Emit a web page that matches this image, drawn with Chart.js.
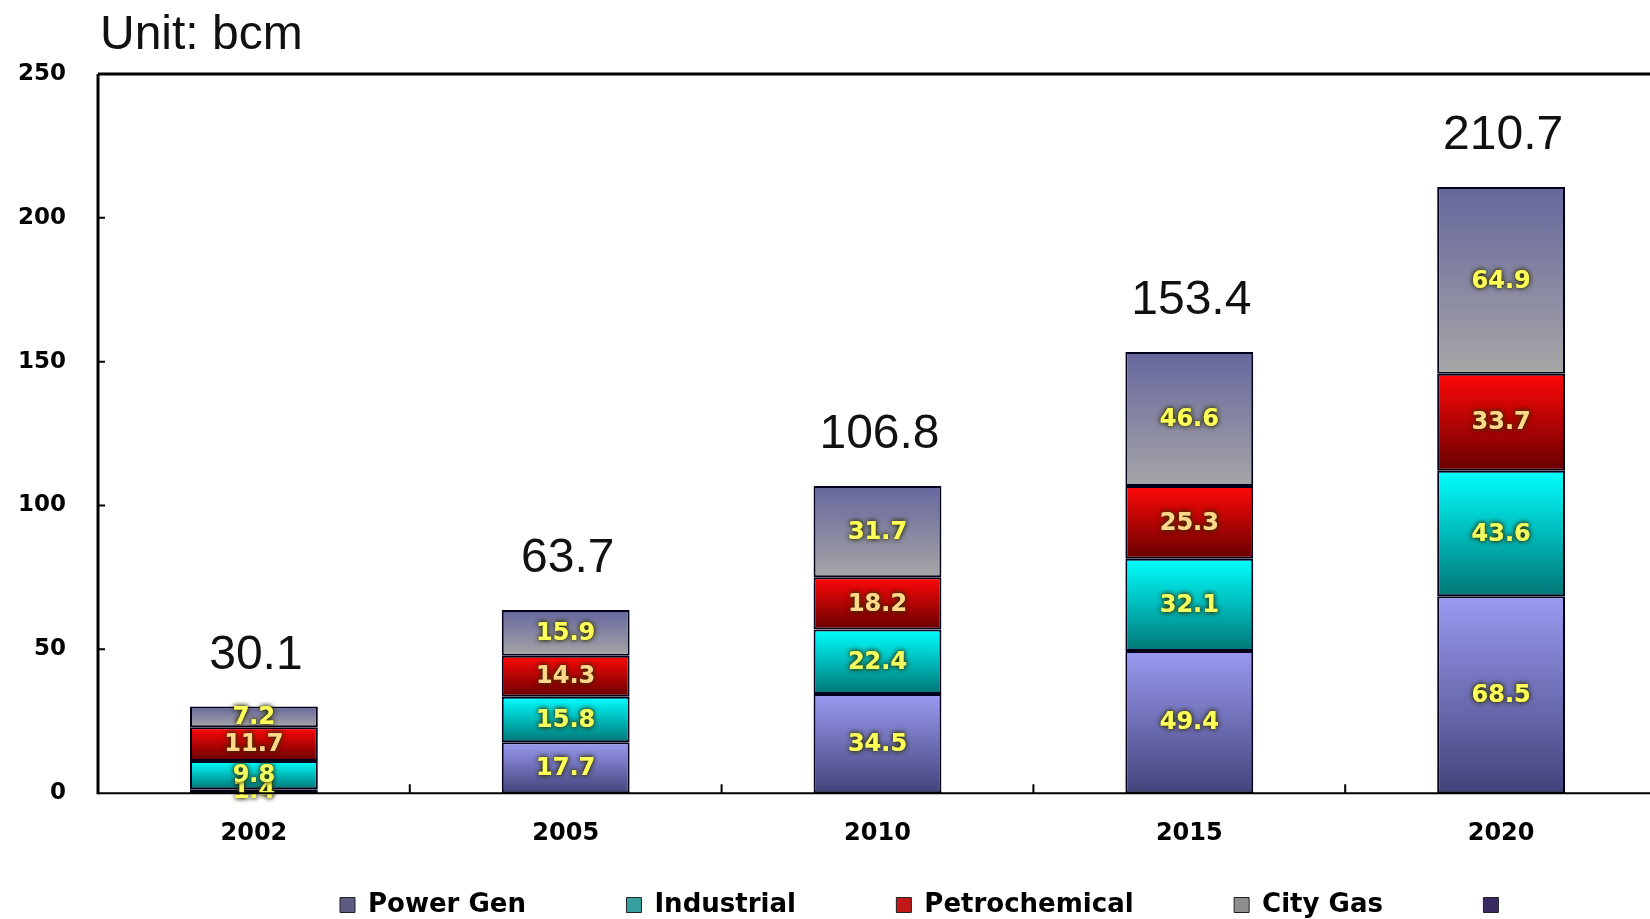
<!DOCTYPE html>
<html>
<head>
<meta charset="utf-8">
<script src="https://cdn.jsdelivr.net/npm/chart.js@4.4.0/dist/chart.umd.min.js"></script>
<style>
  html, body { margin: 0; padding: 0; overflow: hidden; background: #fff; }
</style>
</head>
<body>
<canvas id="gasChart" width="1657" height="919"></canvas>
<script>
// data (bcm)
const years = ['2002', '2005', '2010', '2015', '2020'];
const seriesNames = ['Power Gen', 'Industrial', 'Petrochemical', 'City Gas', ''];
const powerGen = [1.4, 17.7, 34.5, 49.4, 68.5];
const industrial = [9.8, 15.8, 22.4, 32.1, 43.6];
const petrochemical = [11.7, 14.3, 18.2, 25.3, 33.7];
const cityGas = [7.2, 15.9, 31.7, 46.6, 64.9];
const totals = [30.1, 63.7, 106.8, 153.4, 210.7];
const yTicks = [0, 50, 100, 150, 200, 250];

// top / bottom colour of each segment's gradient
const gradStops = [
  ['#9a9af2', '#43437a'],
  ['#00ffff', '#007676'],
  ['#ff0808', '#680000'],
  ['#66669e', '#a6a6a6']
];
const legendBoxes = ['#5c5c80', '#36a0a0', '#c01818', '#8e8e8e', '#3a2a62'];
const labelColors = ['#ffff5a', '#f0ff60', '#ffd68a', '#ffff5a'];

function segmentFill(context) {
  const chart = context.chart;
  const ds = context.datasetIndex;
  if (context.type !== 'data') return gradStops[ds][0];
  const i = context.dataIndex;
  const y = chart.scales.y;
  let start = 0;
  for (let k = 0; k < ds; k++) start += chart.data.datasets[k].data[i];
  const end = start + chart.data.datasets[ds].data[i];
  const top = y.getPixelForValue(end);
  const bot = y.getPixelForValue(start);
  if (!isFinite(top) || !isFinite(bot) || top === bot) return gradStops[ds][0];
  const g = chart.ctx.createLinearGradient(0, top, 0, bot);
  g.addColorStop(0, gradStops[ds][0]);
  g.addColorStop(1, gradStops[ds][1]);
  return g;
}

const decorations = {
  id: 'decorations',
  afterLayout(chart) {
    // legend sits a bit right of centre and low in the picture
    const lg = chart.legend;
    const w = lg.right - lg.left;
    lg.left = 330;
    lg.right = lg.left + w;
    const dy = chart.height - lg.bottom + 9;
    lg.top += dy;
    lg.bottom += dy;
  },
  afterDatasetsDraw(chart) {
    const ctx = chart.ctx;
    const area = chart.chartArea;
    const x = chart.scales.x;
    const y = chart.scales.y;

    // values inside the segments
    ctx.save();
    ctx.font = 'bold 24px "DejaVu Sans"';
    ctx.textAlign = 'center';
    ctx.textBaseline = 'middle';
    for (let ds = 0; ds < 4; ds++) {
      const meta = chart.getDatasetMeta(ds);
      meta.data.forEach((el, i) => {
        const v = chart.data.datasets[ds].data[i];
        ctx.shadowColor = 'rgba(50,50,0,0.95)';
        ctx.shadowBlur = 5;
        ctx.fillStyle = labelColors[ds];
        ctx.fillText(v.toFixed(1), el.x, (el.y + el.base) / 2 + 1);
        ctx.fillText(v.toFixed(1), el.x, (el.y + el.base) / 2 + 1);
      });
    }
    ctx.restore();

    // totals above the bars
    ctx.save();
    ctx.font = '48px "Liberation Sans"';
    ctx.fillStyle = '#111';
    ctx.textAlign = 'center';
    ctx.textBaseline = 'alphabetic';
    chart.getDatasetMeta(3).data.forEach((el, i) => {
      ctx.fillText(totals[i].toFixed(1), el.x + 2, el.y - 38);
    });

    // unit note
    ctx.textAlign = 'left';
    ctx.font = '48px "Liberation Sans"';
    ctx.fillText('Unit: bcm', area.left + 2, 49);
    ctx.restore();

    // frame and small inside ticks
    ctx.save();
    ctx.strokeStyle = '#000';
    ctx.lineWidth = 3;
    ctx.beginPath();
    ctx.moveTo(area.left, area.top);
    ctx.lineTo(chart.width, area.top);
    ctx.moveTo(area.left, area.top);
    ctx.lineTo(area.left, area.bottom + 1);
    ctx.stroke();
    ctx.lineWidth = 2;
    ctx.beginPath();
    ctx.moveTo(area.left, area.bottom);
    ctx.lineTo(chart.width, area.bottom);
    for (let i = 1; i < years.length; i++) {
      const bx = (x.getPixelForValue(i - 1) + x.getPixelForValue(i)) / 2;
      ctx.moveTo(bx, area.bottom);
      ctx.lineTo(bx, area.bottom - 9);
    }
    yTicks.forEach(v => {
      const ty = y.getPixelForValue(v);
      ctx.moveTo(area.left, ty);
      ctx.lineTo(area.left + 7, ty);
    });
    ctx.stroke();
    ctx.restore();
  }
};

const datasets = [powerGen, industrial, petrochemical, cityGas].map((values, i) => ({
  label: seriesNames[i],
  data: values,
  backgroundColor: segmentFill,
  borderColor: '#00001a',
  borderWidth: 2,
  borderSkipped: false,
  barPercentage: 0.41,
  categoryPercentage: 1.0
}));

new Chart(document.getElementById('gasChart'), {
  type: 'bar',
  data: { labels: years, datasets: datasets },
  plugins: [decorations],
  options: {
    responsive: false,
    animation: false,
    devicePixelRatio: 1,
    layout: { padding: { left: 18, top: 74, right: 0, bottom: 7 } },
    plugins: {
      tooltip: { enabled: false },
      legend: {
        position: 'bottom',
        align: 'start',
        labels: {
          boxWidth: 15,
          boxHeight: 15,
          padding: 10,
          color: '#000',
          font: { family: 'DejaVu Sans', weight: 'bold', size: 26 },
          generateLabels: () => seriesNames.map((name, i) => ({
            text: name + ' '.repeat(10),
            fillStyle: legendBoxes[i],
            strokeStyle: '#222',
            lineWidth: 1,
            hidden: false,
            fontColor: '#000'
          }))
        }
      }
    },
    scales: {
      x: {
        stacked: true,
        grid: { display: false },
        border: { display: false },
        ticks: {
          color: '#000',
          padding: 18,
          font: { family: 'DejaVu Sans', weight: 'bold', size: 24 }
        }
      },
      y: {
        stacked: true,
        min: yTicks[0],
        max: yTicks[yTicks.length - 1],
        afterBuildTicks: s => { s.ticks = yTicks.map(v => ({ value: v })); },
        afterFit: s => { s.width = 80; },
        grid: { display: false },
        border: { display: false },
        ticks: {
          color: '#000',
          padding: 24,
          font: { family: 'DejaVu Sans', weight: 'bold', size: 23 }
        }
      }
    }
  }
});
</script>
</body>
</html>
